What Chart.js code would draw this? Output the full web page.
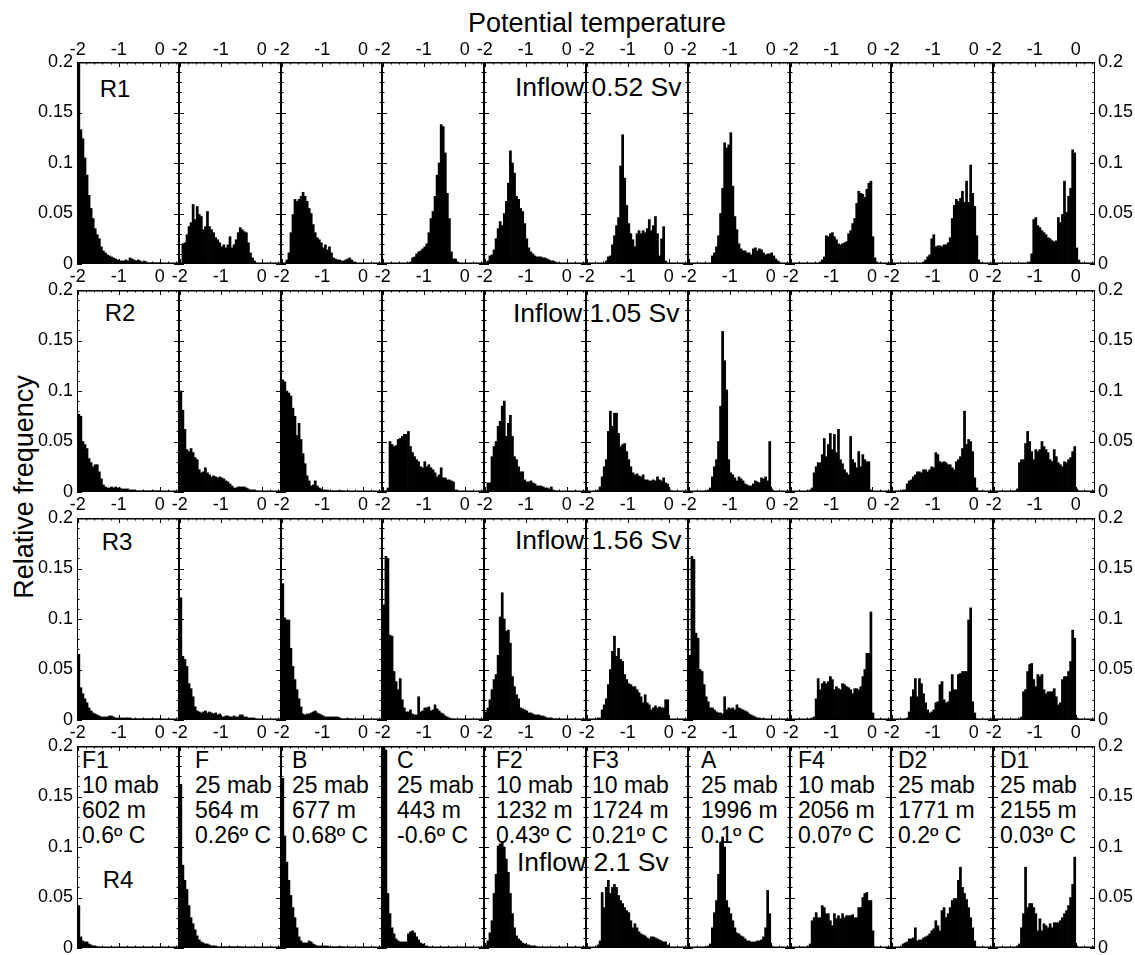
<!DOCTYPE html>
<html>
<head>
<meta charset="utf-8">
<script src="https://cdn.jsdelivr.net/npm/chart.js@4.4.1/dist/chart.umd.min.js"></script>
<style>
  body { margin: 0; background: #fff; }
  #fig { position: relative; width: 1135px; height: 955px; overflow: hidden;
         font-family: "Liberation Sans", Arial, sans-serif; color: #000; }
  #fig canvas { position: absolute; z-index: 1; }
  .t { position: absolute; z-index: 0; white-space: nowrap; line-height: 1; }
</style>
</head>
<body>
<div id="fig"></div>
<script>
// histogram bins: first bin starts at -2, each 0.05 wide
const binStart = -2;
const binWidth = 0.05;
const xTicks = [-2, -1, 0];
const yTicks = [0, 0.05, 0.1, 0.15, 0.2];

const stations = ['F1', 'F', 'B', 'C', 'F2', 'F3', 'A', 'F4', 'D2', 'D1'];
const mab = [10, 25, 25, 25, 10, 10, 25, 10, 25, 25];
const depth = [602, 564, 677, 443, 1232, 1724, 1996, 2056, 1771, 2155];
const meanTemp = ['0.6', '0.26', '0.68', '-0.6', '0.43', '0.21', '0.1', '0.07', '0.2', '0.03'];
const runs = ['R1', 'R2', 'R3', 'R4'];
const inflow = ['0.52', '1.05', '1.56', '2.1'];

// relative frequency x 1000, one list per station
const r1 = [
  [200,133,124,105,88,68,55,45,35,29,25,17,13,11,9,8,7,6,5,4,3,3,3,4,3,6,5,4,3,4,3,2,3,2,1,1,1,1,1,1,1],
  [0,20,21,29,37,41,59,44,57,49,47,34,37,52,37,34,31,26,24,21,17,19,16,19,27,16,19,24,31,36,34,32,31,21,11,6,3,1],
  [0,1,4,11,31,49,64,62,64,67,71,67,62,55,50,39,31,26,24,21,16,19,14,17,11,6,5,4,4,3,3,4,5,6,4,2,1],
  [0,0,0,0,0,0,0,0,0,0,0,0,1,2,6,7,10,12,13,15,17,20,31,45,52,67,88,100,138,136,110,70,45,12,5,5,2,1],
  [0,3,8,9,14,25,35,42,38,50,62,80,112,100,90,67,64,55,52,40,25,16,12,10,8,7,7,7,6,6,5,4,3,3,2,1],
  [0,0,0,0,0,0,0,0,0,3,7,8,19,28,38,46,97,128,85,58,40,30,24,17,30,33,30,33,31,35,44,33,38,47,30,8,25,37,3,1],
  [0,0,0,0,0,0,0,0,0,0,0,8,11,17,28,50,75,120,115,118,130,77,47,34,20,15,13,13,11,11,9,15,16,13,15,14,11,9,10,10,11,8,5,3,1],
  [0,0,0,0,0,0,0,0,0,0,0,0,0,0,2,4,7,28,27,30,31,27,24,20,19,20,21,22,30,33,40,45,60,72,70,69,66,74,80,82,27,6,2],
  [0,0,0,0,0,0,0,0,0,0,0,0,0,0,0,2,4,7,9,25,29,17,18,18,17,19,19,21,26,45,58,64,62,65,72,61,82,61,98,70,57,28,4,1],
  [0,0,0,0,0,0,0,0,0,0,0,0,0,0,0,0,0,2,10,44,46,38,36,33,31,29,26,25,23,22,23,46,41,49,82,51,67,75,113,110,16,4,1]
];
const r2 = [
  [77,75,50,47,43,33,29,25,27,27,20,13,7,5,4,4,5,4,5,4,4,3,3,3,3,2,2,2,1,1,1,1,1,1,1,1,1,1,1,1,1],
  [100,81,62,42,40,43,39,34,32,22,19,20,24,19,17,15,16,15,14,15,14,13,11,10,8,6,4,4,5,5,5,5,4,3,2,2,2,1,1],
  [111,109,100,98,95,83,75,56,68,52,38,28,16,11,6,7,11,6,4,3,2,2,2,1,1,1,1,1,1,1,1],
  [0,1,4,50,47,45,46,52,53,55,57,57,60,45,39,35,32,30,25,24,30,25,27,24,22,19,15,17,24,14,14,12,12,11,10,2,1],
  [0,9,9,35,45,50,65,70,85,90,55,68,76,55,35,32,25,20,20,12,10,10,11,9,8,6,6,6,5,4,4,3,5,2,1,1],
  [0,0,0,0,0,2,5,15,25,32,60,80,65,78,78,58,45,47,48,40,32,25,19,17,18,16,15,17,12,12,11,11,12,11,15,12,11,14,9,8,2,1],
  [0,0,0,0,0,0,0,0,0,2,4,15,25,32,50,85,159,130,101,32,19,17,14,11,15,13,11,8,7,6,6,8,11,10,9,14,13,15,11,50,3,1],
  [0,0,0,0,0,0,0,0,0,2,4,19,25,29,29,37,53,35,47,58,42,57,39,62,32,28,22,19,17,55,32,29,24,40,25,37,32,30,30,2,1],
  [0,0,0,0,0,2,2,8,11,12,15,17,20,20,19,22,22,20,22,25,24,39,37,30,29,30,29,27,27,24,22,30,32,35,43,80,47,52,50,40,14,4,1],
  [0,0,0,0,0,0,0,0,0,0,1,3,29,32,32,48,60,50,40,32,42,40,42,50,45,42,39,32,30,42,35,29,27,25,30,29,32,34,40,45,3,1]
];
const r3 = [
  [65,32,26,21,17,12,9,7,6,5,4,3,3,3,3,4,4,3,2,2,2,2,2,2,2,2,1,1,1,1,1,1,1,1,1,1,1,1,1,1,1],
  [121,63,60,53,36,31,23,13,9,8,7,8,9,7,8,7,6,7,5,6,3,3,4,4,3,3,4,3,3,5,5,3,3,2,2,2,1,1],
  [135,101,99,99,71,53,40,30,21,13,6,5,6,6,7,8,9,7,6,5,4,3,3,3,3,3,3,3,2,1,1,1,1,1,1],
  [114,162,160,84,83,48,38,30,41,20,12,8,8,10,6,5,5,23,8,9,12,12,13,9,10,15,11,9,7,6,4,3,2,1,1],
  [8,12,20,30,40,45,64,102,126,100,88,89,76,43,33,25,21,12,11,10,9,7,7,6,5,5,5,4,4,3,2,2,2,1,1,1],
  [0,0,0,0,0,2,2,10,15,21,35,50,68,83,63,71,60,58,45,40,36,35,33,33,30,27,23,17,25,17,15,10,12,14,12,13,12,12,20,20,1],
  [64,162,159,86,81,50,48,35,23,18,12,12,10,8,7,7,6,23,10,12,11,12,10,15,12,11,10,9,8,6,5,4,3,2,2,1,1,1],
  [0,0,0,0,0,0,0,0,0,1,2,3,21,41,30,36,38,36,38,43,40,30,33,31,30,36,35,33,32,30,26,31,31,30,33,43,50,66,66,107,7,1],
  [0,0,0,0,0,0,1,2,8,23,30,41,23,41,36,26,17,10,7,8,10,17,18,35,38,20,17,18,28,45,30,30,45,46,48,48,48,99,111,18,7,1],
  [0,0,0,0,0,0,0,0,0,0,0,0,1,3,28,30,48,55,56,40,33,45,43,45,30,26,28,28,28,31,23,15,17,40,43,43,48,58,89,81,2]
];
const r4 = [
  [42,11,7,6,6,4,3,2,2,1,1],
  [162,82,67,58,42,30,24,18,12,8,6,5,4,4,3,2,2,2,1,1,1,1,1,1,1,1,1,1,1,1,1],
  [168,111,85,67,52,40,30,20,11,7,5,5,5,7,6,4,3,2,2,2,2,2,2,1,1,1,1,1,1,1,1],
  [199,196,54,34,20,14,9,7,6,6,6,6,14,16,17,15,11,8,5,4,2,2,1],
  [3,7,15,27,54,73,101,103,105,100,88,75,54,34,20,12,9,7,5,4,3,3,2,2,2,1,1],
  [0,0,0,0,0,3,7,55,40,60,67,54,60,63,60,52,47,44,40,37,35,27,20,24,20,16,14,13,12,10,9,11,11,10,9,8,7,6,6,3,1],
  [0,0,0,0,0,0,0,0,0,2,4,20,35,47,73,105,110,100,47,40,34,27,20,15,14,12,11,9,7,7,6,6,6,7,7,8,11,20,57,34,2],
  [0,0,0,0,0,0,0,0,1,4,27,30,35,30,30,42,40,34,34,27,22,34,29,32,29,34,30,32,32,32,33,30,30,40,40,50,54,55,47,47,17,1],
  [0,0,0,0,0,4,5,6,9,9,10,20,7,8,8,10,11,12,14,17,19,27,22,17,37,40,30,34,40,47,49,49,67,80,60,54,48,40,30,20,7,1],
  [0,0,0,0,0,0,0,0,0,0,0,2,4,20,34,80,40,44,44,40,34,17,29,17,24,22,20,24,20,25,25,25,27,30,34,37,42,50,63,90,2]
];
const rows = [r1, r2, r3, r4];

// layout (page pixels)
const colLeft = [77, 179, 281, 382, 484, 586, 688, 790, 891, 993, 1095];
const rowTop = [62, 290, 518, 746];
const panelH = 202;
const M = 44;
const xMin = -2.02, xMax = 0.47;
const xMinor = 0.2, yMinor = 0.01;

Chart.defaults.font.family = '"Liberation Sans", Arial, sans-serif';
Chart.defaults.color = '#000';

const fig = document.getElementById('fig');

function addText(txt, x, y, size, align, extra) {
  const d = document.createElement('div');
  d.className = 't';
  d.textContent = txt;
  d.style.left = x + 'px';
  d.style.top = y + 'px';
  d.style.fontSize = size + 'px';
  d.style.transform = (align === 'center' ? 'translate(-50%,-50%)' : 'translate(0,-50%)') + (extra || '');
  fig.appendChild(d);
  return d;
}

// frame with inward ticks on all four sides
const frame = {
  id: 'frame',
  afterDatasetsDraw(chart) {
    const { ctx, chartArea: a } = chart;
    const xs = chart.scales.x, ys = chart.scales.y;
    ctx.save();
    ctx.strokeStyle = '#000';
    ctx.lineWidth = 1;
    ctx.beginPath();
    const ny = Math.round((ys.max - ys.min) / yMinor);
    for (let k = 0; k <= ny; k++) {
      const v = ys.min + k * yMinor;
      const py = Math.round(ys.getPixelForValue(v)) + 0.5;
      const len = k % 5 === 0 ? 5 : 2.5;
      ctx.moveTo(a.left, py); ctx.lineTo(a.left + len, py);
      ctx.moveTo(a.right, py); ctx.lineTo(a.right - len, py);
    }
    for (let k = 0; xTicks[0] + k * xMinor <= xMax; k++) {
      const v = xTicks[0] + k * xMinor;
      const px = Math.round(xs.getPixelForValue(v)) + 0.5;
      const len = k % 5 === 0 ? 5 : 2.5;
      ctx.moveTo(px, a.top); ctx.lineTo(px, a.top + len);
      ctx.moveTo(px, a.bottom); ctx.lineTo(px, a.bottom - len);
    }
    ctx.stroke();
    ctx.beginPath();
    ctx.moveTo(a.left + 0.5, a.top); ctx.lineTo(a.left + 0.5, a.bottom);
    ctx.moveTo(a.right - 0.5, a.top); ctx.lineTo(a.right - 0.5, a.bottom);
    ctx.stroke();
    ctx.lineWidth = 1.5;
    ctx.beginPath();
    ctx.moveTo(a.left, a.top + 0.75); ctx.lineTo(a.right, a.top + 0.75);
    ctx.moveTo(a.left, a.bottom - 0.75); ctx.lineTo(a.right, a.bottom - 0.75);
    ctx.stroke();
    ctx.restore();
  }
};

const fixX = s => { s.height = M; };
const fixY = s => { s.width = M; };
const setXTicks = s => { s.ticks = xTicks.map(v => ({ value: v })); };
const setYTicks = s => { s.ticks = yTicks.map(v => ({ value: v })); };
const plain = v => String(+v.toFixed(2));
const tickFont = { size: 18 };

function panel(r, c) {
  const left = colLeft[c], w = colLeft[c + 1] - left, top = rowTop[r];
  const cv = document.createElement('canvas');
  cv.width = w + 2 * M;
  cv.height = panelH + 2 * M;
  cv.style.left = (left - M) + 'px';
  cv.style.top = (top - M) + 'px';
  fig.appendChild(cv);

  const values = rows[r][c];
  const points = values.map((v, i) => ({ x: binStart + (i + 0.5) * binWidth, y: v / 1000 }));

  new Chart(cv, {
    type: 'bar',
    data: {
      datasets: [{
        data: points,
        backgroundColor: '#000',
        borderWidth: 0,
        barPercentage: 1,
        categoryPercentage: 1,
        xAxisID: 'x',
        yAxisID: 'y'
      }]
    },
    options: {
      responsive: false,
      animation: false,
      devicePixelRatio: 1,
      events: [],
      layout: { padding: 0 },
      plugins: { legend: { display: false }, tooltip: { enabled: false } },
      scales: {
        x: {
          type: 'linear', position: 'bottom', min: xMin, max: xMax, offset: false,
          grid: { display: false, drawTicks: false }, border: { display: false },
          afterBuildTicks: setXTicks, afterFit: fixX,
          ticks: { display: r < 3, font: tickFont, padding: 2, autoSkip: false, maxRotation: 0, callback: plain }
        },
        x2: {
          type: 'linear', position: 'top', min: xMin, max: xMax, offset: false,
          grid: { display: false, drawTicks: false }, border: { display: false },
          afterBuildTicks: setXTicks, afterFit: fixX,
          ticks: { display: r === 0, font: tickFont, padding: 1, autoSkip: false, maxRotation: 0, callback: plain }
        },
        y: {
          type: 'linear', position: 'left', min: 0, max: 0.2,
          grid: { display: false, drawTicks: false }, border: { display: false },
          afterBuildTicks: setYTicks, afterFit: fixY,
          ticks: { display: c === 0, font: tickFont, padding: 4, autoSkip: false, callback: plain }
        },
        y2: {
          type: 'linear', position: 'right', min: 0, max: 0.2,
          grid: { display: false, drawTicks: false }, border: { display: false },
          afterBuildTicks: setYTicks, afterFit: fixY,
          ticks: { display: c === 9, font: tickFont, padding: 3, autoSkip: false, callback: plain }
        }
      }
    },
    plugins: [frame]
  });
}

for (let r = 0; r < 4; r++) {
  for (let c = 0; c < 10; c++) panel(r, c);
}

// titles and annotations (under the plots, like the original)
addText('Potential temperature', 597, 23, 27, 'center');
addText('Relative frequency', 24, 487, 27, 'center', ' rotate(-90deg)');

const runPos = [[115, 89], [120, 313], [117, 542], [118, 880]];
const inflowPos = [[515, 87], [513, 313], [515, 540], [517, 862]];
runs.forEach((name, i) => {
  addText(name, runPos[i][0], runPos[i][1], 24, 'center');
  addText('Inflow ' + inflow[i] + ' Sv', inflowPos[i][0], inflowPos[i][1], 26.5, 'left');
});

const labelOffset = [5, 16, 11, 15, 12, 6, 13, 8, 7, 7];
stations.forEach((s, c) => {
  const d = document.createElement('div');
  d.className = 't';
  d.style.left = (colLeft[c] + labelOffset[c]) + 'px';
  d.style.top = '748px';
  d.style.fontSize = '23px';
  d.style.lineHeight = '25px';
  d.style.whiteSpace = 'pre';
  d.textContent = s + '\n' + mab[c] + ' mab\n' + depth[c] + ' m\n' + meanTemp[c] + 'º C';
  fig.appendChild(d);
});
</script>
</body>
</html>
